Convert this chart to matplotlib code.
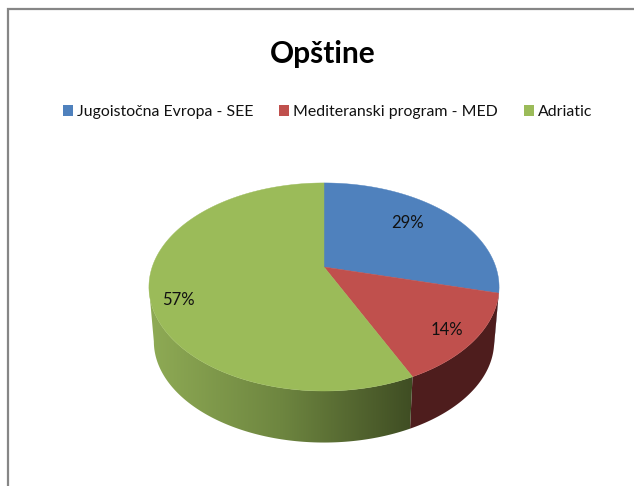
#!/usr/bin/env python3
"""Opstine pie chart, drawn as a tilted 3D pie with a perspective rim."""

import numpy as np
import matplotlib
matplotlib.use('Agg')
import matplotlib.pyplot as plt
from matplotlib.colors import LinearSegmentedColormap
from matplotlib.patches import Patch, Polygon

title = 'Opštine'
categories = ['Jugoistočna Evropa - SEE', 'Mediteranski program - MED', 'Adriatic']
values = [29, 14, 57]
labels = ['29%', '14%', '57%']

top_colors = ['#4f81bd', '#c0504d', '#9bbb59']
side_colors = ['#27405e', '#4e1d1d', None]

FONT = ['Lato', 'DejaVu Sans']
W, H = 634, 486

# pie geometry, in pixels
APEX_X, APEX_Y = 324, 267
A, B, K = 171.8, 100.2, 0.192
DEPTH, SHRINK = 55, 0.972

# only this part of the rim has a visible wall (where the outline is tangent)
WALL_START = np.arccos(-K)
WALL_END = 2 * np.pi - WALL_START


def rim(theta, shrink=1.0, drop=0.0):
    """Project rim points of the round pie (theta clockwise from the top)."""
    x, y = np.sin(theta), np.cos(theta)
    w = 1 + K * y
    return (APEX_X + shrink * A * x / w,
            APEX_Y + drop + shrink * (-B * y / w))


def arc(start, end):
    return np.linspace(start, end, max(int(np.degrees(end - start)), 2) + 1)


def side_polygon(theta):
    tx, ty = rim(theta)
    bx, by = rim(theta[::-1], SHRINK, DEPTH)
    return np.column_stack([np.r_[tx, bx], np.r_[ty, by]])


def main():
    fig = plt.figure(figsize=(W / 100, H / 100), dpi=100, facecolor='white')
    ax = fig.add_axes([0, 0, 1, 1])
    ax.set_axis_off()

    # chart frame
    ax.plot([7.5, 7.5, W], [H, 9, 9], color='#868686', lw=1.6, solid_joinstyle='miter')

    edges = np.radians(np.r_[0, np.cumsum(values)] / np.sum(values) * 360)

    # walls first, the top covers the seam
    green_side = LinearSegmentedColormap.from_list('green_side', ['#8fab55', '#6e8640', '#3f4d23'])
    for i in range(len(values)):
        start, end = max(edges[i], WALL_START), min(edges[i + 1], WALL_END)
        if start >= end:
            continue
        theta = arc(start, end)
        if side_colors[i] is not None:
            ax.add_patch(Polygon(side_polygon(theta), closed=True, fc=side_colors[i], ec='none', zorder=1))
        else:
            poly = Polygon(side_polygon(theta), closed=True, fc='none', ec='none', transform=ax.transData)
            ax.add_patch(poly)
            corner = rim(edges[i])[0]
            im = ax.imshow(np.linspace(1, 0, 256).reshape(1, -1), cmap=green_side, aspect='auto',
                           extent=(corner, APEX_X - 176, H, 0), zorder=1)
            im.set_clip_path(poly)

    for i in range(len(values)):
        tx, ty = rim(arc(edges[i], edges[i + 1]))
        ax.fill(np.r_[APEX_X, tx], np.r_[APEX_Y, ty], color=top_colors[i], lw=0.3, zorder=2)

    ax.set_xlim(0, W)
    ax.set_ylim(H, 0)

    for text, x, y in zip(labels, [407, 447, 178], [223, 330, 300]):
        ax.text(x, y, text, ha='center', va='center', fontsize=12, color='#111111',
                family=FONT, zorder=3)

    ax.text(323, 54, title, ha='center', va='center', fontsize=21.5, fontweight='bold',
            color='black', family=FONT)

    handles = [Patch(fc=c, ec='none') for c in top_colors]
    ax.legend(handles, categories, loc='center', bbox_to_anchor=(327.5 / W, 1 - 112 / H), ncols=3,
              frameon=False, prop={'family': FONT, 'size': 11.4}, handlelength=0.63, handleheight=0.7,
              handletextpad=0.25, columnspacing=1.65, labelcolor='#111111')

    fig.savefig('out.png', dpi=100)
    plt.close(fig)


if __name__ == '__main__':
    main()
